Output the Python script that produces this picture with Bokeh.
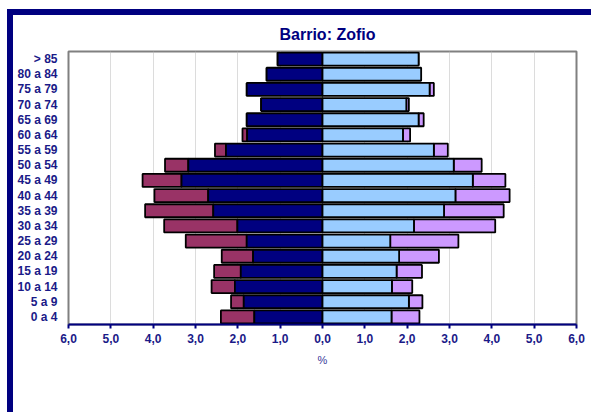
from bokeh.plotting import figure
from bokeh.models import FactorRange, FixedTicker, Range1d
from bokeh.embed import file_html
from bokeh.resources import INLINE

# ---- data (bottom to top) ----
categories = ["0 a 4", "5 a 9", "10 a 14", "15 a 19", "20 a 24", "25 a 29",
              "30 a 34", "35 a 39", "40 a 44", "45 a 49", "50 a 54", "55 a 59",
              "60 a 64", "65 a 69", "70 a 74", "75 a 79", "80 a 84", "> 85"]
hombres_esp = [1.61, 1.86, 2.07, 1.93, 1.64, 1.79, 2.01, 2.58, 2.70, 3.33,
               3.17, 2.28, 1.78, 1.79, 1.45, 1.79, 1.32, 1.06]
hombres_ext = [0.79, 0.30, 0.55, 0.63, 0.74, 1.44, 1.73, 1.61, 1.27, 0.92,
               0.55, 0.26, 0.11, 0.00, 0.00, 0.00, 0.00, 0.00]
mujeres_esp = [1.63, 2.04, 1.64, 1.75, 1.81, 1.60, 2.16, 2.87, 3.14, 3.55,
               3.10, 2.63, 1.90, 2.27, 1.98, 2.53, 2.33, 2.27]
mujeres_ext = [0.66, 0.32, 0.48, 0.60, 0.94, 1.61, 1.92, 1.41, 1.28, 0.77,
               0.66, 0.33, 0.17, 0.12, 0.06, 0.10, 0.00, 0.00]
x_ticks = [-6, -5, -4, -3, -2, -1, 0, 1, 2, 3, 4, 5, 6]
x_tick_labels = ["6,0", "5,0", "4,0", "3,0", "2,0", "1,0", "0,0",
                 "1,0", "2,0", "3,0", "4,0", "5,0", "6,0"]
title_text = "Barrio: Zofio"
x_label = "%"

NAVY = "#000080"
FONT = "Liberation Sans"

p = figure(y_range=FactorRange(factors=categories),
           x_range=Range1d(-6, 6),
           frame_width=508, frame_height=273,
           min_border_left=55, min_border_right=15,
           min_border_top=36, min_border_bottom=88,
           output_backend="svg", toolbar_location=None,
           title=title_text)

# chart-area border (navy, left and top) as in the original
p.styles = {"margin-left": "7px", "margin-top": "9px",
            "border-top": "6px solid #000080",
            "border-left": "6px solid #000080"}

m_base_left = [-v for v in hombres_esp]
m_ext_left = [-(a + b) for a, b in zip(hombres_esp, hombres_ext)]
w_ext_right = [a + b for a, b in zip(mujeres_esp, mujeres_ext)]
zeros = [0.0] * len(categories)

bar_h = 0.86
p.hbar(y=categories, left=m_ext_left, right=m_base_left, height=bar_h,
       fill_color="#993366", line_color="black", line_width=1.8)
p.hbar(y=categories, left=m_base_left, right=zeros, height=bar_h,
       fill_color=NAVY, line_color="black", line_width=1.8)
p.hbar(y=categories, left=mujeres_esp, right=w_ext_right, height=bar_h,
       fill_color="#CC99FF", line_color="black", line_width=1.8)
p.hbar(y=categories, left=zeros, right=mujeres_esp, height=bar_h,
       fill_color="#99CCFF", line_color="black", line_width=1.8)

p.title.text_color = NAVY
p.title.text_font = FONT
p.title.text_font_size = "16px"
p.title.text_font_style = "bold"
p.title.align = "left"
p.title.offset = 211
p.title.standoff = 17

p.outline_line_color = "#808080"
p.outline_line_width = 2
p.background_fill_color = "white"
p.border_fill_color = "white"

p.ygrid.grid_line_color = None
p.xgrid.ticker = FixedTicker(ticks=x_ticks)
p.xgrid.grid_line_color = "#b8b8b8"
p.xgrid.grid_line_dash = "1 1"
p.xgrid.grid_line_width = 1

p.xaxis.ticker = FixedTicker(ticks=x_ticks)
p.xaxis.major_label_overrides = {t: lab for t, lab in zip(x_ticks, x_tick_labels)}
p.xaxis.axis_line_color = NAVY
p.xaxis.axis_line_width = 2
p.xaxis.major_tick_line_color = NAVY
p.xaxis.major_tick_line_width = 2
p.xaxis.major_tick_in = 0
p.xaxis.major_tick_out = 4
p.xaxis.minor_tick_line_color = None
p.xaxis.major_label_text_font = FONT
p.xaxis.major_label_text_font_size = "12px"
p.xaxis.major_label_text_font_style = "bold"
p.xaxis.major_label_text_color = "#1a1a88"
p.xaxis.major_label_standoff = 5
p.xaxis.axis_label = x_label
p.xaxis.axis_label_text_font = FONT
p.xaxis.axis_label_text_font_size = "11px"
p.xaxis.axis_label_text_font_style = "normal"
p.xaxis.axis_label_text_color = "#3a3a9a"
p.xaxis.axis_label_standoff = 8

p.yaxis.axis_line_color = None
p.yaxis.major_tick_line_color = None
p.yaxis.minor_tick_line_color = None
p.yaxis.major_tick_in = 0
p.yaxis.major_tick_out = 0
p.yaxis.major_label_text_font = FONT
p.yaxis.major_label_text_font_size = "12px"
p.yaxis.major_label_text_font_style = "bold"
p.yaxis.major_label_text_color = "#1a1a88"
p.yaxis.major_label_standoff = 11

open("out.html", "w").write(file_html(p, INLINE))
